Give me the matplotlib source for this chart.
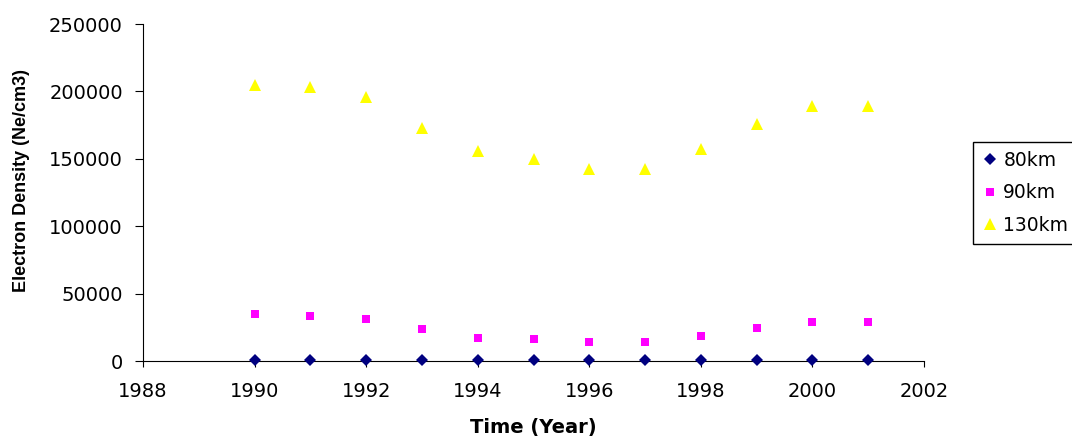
import matplotlib
matplotlib.use("Agg")
import matplotlib.pyplot as plt

years = [1990, 1991, 1992, 1993, 1994, 1995, 1996, 1997, 1998, 1999, 2000, 2001]
ne_80km = [900, 900, 900, 900, 900, 900, 900, 900, 900, 900, 900, 900]
ne_90km = [34500, 33600, 31400, 23400, 17400, 16400, 14000, 14000, 18400, 24300, 28900, 28900]
ne_130km = [204500, 203500, 195500, 172500, 156000, 149500, 142500, 142500, 157500, 175500, 189500, 189500]

series_labels = ["80km", "90km", "130km"]
x_ticks = [1988, 1990, 1992, 1994, 1996, 1998, 2000, 2002]
y_ticks = [0, 50000, 100000, 150000, 200000, 250000]

W, H = 1072, 436
fig = plt.figure(figsize=(W / 100, H / 100), dpi=100)
ax = fig.add_axes([143 / W, 1 - 361 / H, (924 - 143) / W, (361 - 24) / H])

ax.plot(years, ne_80km, linestyle="none", marker="D", markersize=5.8,
        color="#000080", markeredgewidth=0, label=series_labels[0], clip_on=False, zorder=3)
ax.plot(years, ne_90km, linestyle="none", marker="s", markersize=6.4,
        color="#FF00FF", markeredgewidth=0, label=series_labels[1], clip_on=False, zorder=3)
ax.plot(years, ne_130km, linestyle="none", marker="^", markersize=8.5,
        color="#FFFF00", markeredgewidth=0, label=series_labels[2], clip_on=False, zorder=3)

ax.set_xlim(1988, 2002)
ax.set_ylim(0, 250000)
ax.set_xticks(x_ticks)
ax.set_yticks(y_ticks)
ax.set_xticklabels([str(t) for t in x_ticks])
ax.set_yticklabels([str(t) for t in y_ticks])

for s in ["top", "right"]:
    ax.spines[s].set_visible(False)
for s in ["left", "bottom"]:
    ax.spines[s].set_color("#000000")
    ax.spines[s].set_linewidth(0.8)

ax.tick_params(axis="x", direction="out", length=4, width=0.8, pad=11,
               labelsize=14, colors="#000000")
ax.tick_params(axis="y", direction="out", length=5.5, width=0.8, pad=9,
               labelsize=14, colors="#000000")
for lbl in ax.get_xticklabels() + ax.get_yticklabels():
    lbl.set_family("DejaVu Sans")

fig.text(533.5 / W, 1 - 433 / H, "Time (Year)", ha="center", va="baseline",
         fontsize=14, fontweight="bold", family="DejaVu Sans")
fig.text(22 / W, 1 - 180 / H, "Electron Density (Ne/cm3)", rotation=90,
         ha="center", va="center", fontsize=13, fontweight="bold",
         family="Liberation Sans")

leg = ax.legend(loc="upper left", bbox_to_anchor=(973 / W, 1 - 142 / H),
                bbox_transform=fig.transFigure, borderaxespad=0, fancybox=False,
                edgecolor="#000000", framealpha=1, numpoints=1,
                prop={"family": "DejaVu Sans", "size": 13.5},
                borderpad=0.48, labelspacing=0.72, handlelength=0.8,
                handletextpad=0.34)
leg.get_frame().set_linewidth(1.0)

fig.savefig("out.png", dpi=100)
